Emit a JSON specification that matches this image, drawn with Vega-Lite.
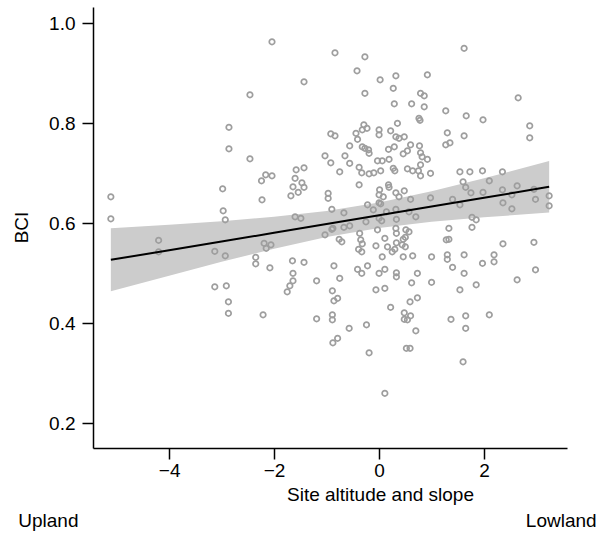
{
  "$schema": "https://vega.github.io/schema/vega-lite/v6.json",
  "width": 474,
  "height": 441,
  "autosize": {"type": "none"},
  "padding": {"left": 93, "top": 7, "right": 35, "bottom": 87},
  "background": "white",
  "config": {
    "view": {"stroke": null},
    "font": "Liberation Sans",
    "axis": {
      "grid": false,
      "domainColor": "black",
      "domainWidth": 1.5,
      "tickColor": "black",
      "tickWidth": 1.5,
      "tickSize": 11,
      "labelColor": "black",
      "labelFontSize": 19,
      "labelFont": "Liberation Sans",
      "titleFont": "Liberation Sans",
      "titleFontSize": 19,
      "titleFontWeight": "normal",
      "titleColor": "black",
      "labelFlush": false,
      "labelOverlap": false
    }
  },
  "datasets": {
    "pts": [
      {"x": -5.11, "y": 0.653}, {"x": -5.11, "y": 0.609}, {"x": -4.2, "y": 0.566}, {"x": -4.2, "y": 0.543},
      {"x": -2.98, "y": 0.669}, {"x": -2.97, "y": 0.625}, {"x": -2.93, "y": 0.607}, {"x": -3.13, "y": 0.544},
      {"x": -2.93, "y": 0.535}, {"x": -3.13, "y": 0.473}, {"x": -2.91, "y": 0.475}, {"x": -2.87, "y": 0.443},
      {"x": -2.87, "y": 0.42}, {"x": -2.04, "y": 0.963}, {"x": -1.43, "y": 0.883}, {"x": -2.46, "y": 0.857},
      {"x": -2.86, "y": 0.792}, {"x": -2.86, "y": 0.749}, {"x": -2.46, "y": 0.729}, {"x": -2.16, "y": 0.697},
      {"x": -2.04, "y": 0.695}, {"x": -2.24, "y": 0.685}, {"x": -1.58, "y": 0.707}, {"x": -1.43, "y": 0.711},
      {"x": -1.6, "y": 0.69}, {"x": -1.47, "y": 0.681}, {"x": -1.64, "y": 0.673}, {"x": -1.43, "y": 0.672},
      {"x": -1.54, "y": 0.662}, {"x": -1.68, "y": 0.655}, {"x": -2.23, "y": 0.647}, {"x": -1.6, "y": 0.613},
      {"x": -1.49, "y": 0.61}, {"x": -2.19, "y": 0.56}, {"x": -2.06, "y": 0.557}, {"x": -2.15, "y": 0.55},
      {"x": -2.35, "y": 0.532}, {"x": -2.35, "y": 0.519}, {"x": -2.08, "y": 0.511}, {"x": -1.65, "y": 0.525},
      {"x": -1.43, "y": 0.522}, {"x": -1.64, "y": 0.5}, {"x": -1.64, "y": 0.485}, {"x": -1.7, "y": 0.475},
      {"x": -1.75, "y": 0.463}, {"x": -1.19, "y": 0.485}, {"x": -2.21, "y": 0.417}, {"x": -1.19, "y": 0.409},
      {"x": -0.84, "y": 0.941}, {"x": -0.27, "y": 0.933}, {"x": -0.42, "y": 0.905}, {"x": 0.02, "y": 0.887},
      {"x": 0.32, "y": 0.895}, {"x": 0.27, "y": 0.87}, {"x": -0.27, "y": 0.86}, {"x": 0.29, "y": 0.839},
      {"x": 0.35, "y": 0.8}, {"x": -0.92, "y": 0.779}, {"x": -0.84, "y": 0.775}, {"x": -0.44, "y": 0.78},
      {"x": -0.29, "y": 0.797}, {"x": -0.23, "y": 0.79}, {"x": -0.32, "y": 0.787}, {"x": 0.0, "y": 0.787},
      {"x": 0.0, "y": 0.777}, {"x": 0.22, "y": 0.785}, {"x": 0.32, "y": 0.773}, {"x": -0.41, "y": 0.768},
      {"x": -0.56, "y": 0.755}, {"x": -0.32, "y": 0.753}, {"x": -0.27, "y": 0.75}, {"x": -0.2, "y": 0.747},
      {"x": -0.19, "y": 0.74}, {"x": -1.03, "y": 0.735}, {"x": -0.65, "y": 0.735}, {"x": 0.18, "y": 0.748},
      {"x": 0.29, "y": 0.753}, {"x": -0.03, "y": 0.725}, {"x": 0.19, "y": 0.728}, {"x": 1.62, "y": 0.95},
      {"x": 0.92, "y": 0.897}, {"x": 0.79, "y": 0.86}, {"x": 0.86, "y": 0.855}, {"x": 0.62, "y": 0.839},
      {"x": 0.86, "y": 0.833}, {"x": 1.27, "y": 0.825}, {"x": 1.66, "y": 0.815}, {"x": 0.76, "y": 0.81},
      {"x": 0.78, "y": 0.806}, {"x": 0.38, "y": 0.77}, {"x": 0.48, "y": 0.773}, {"x": 1.3, "y": 0.781},
      {"x": 1.62, "y": 0.775}, {"x": 1.27, "y": 0.757}, {"x": 1.35, "y": 0.761}, {"x": 0.6, "y": 0.757},
      {"x": 0.77, "y": 0.755}, {"x": 0.54, "y": 0.745}, {"x": 0.46, "y": 0.739}, {"x": 0.79, "y": 0.741},
      {"x": 0.82, "y": 0.733}, {"x": 0.92, "y": 0.728}, {"x": -0.92, "y": 0.721}, {"x": -0.56, "y": 0.72},
      {"x": -0.75, "y": 0.703}, {"x": -0.38, "y": 0.712}, {"x": -0.33, "y": 0.701}, {"x": -0.19, "y": 0.699},
      {"x": -0.1, "y": 0.701}, {"x": 0.03, "y": 0.705}, {"x": 0.06, "y": 0.725}, {"x": 0.27, "y": 0.71},
      {"x": 0.3, "y": 0.705}, {"x": -0.38, "y": 0.677}, {"x": 0.18, "y": 0.677}, {"x": 0.19, "y": 0.672},
      {"x": -0.97, "y": 0.66}, {"x": -0.97, "y": 0.65}, {"x": 0.01, "y": 0.667}, {"x": 0.0, "y": 0.657},
      {"x": 0.08, "y": 0.653}, {"x": 0.32, "y": 0.661}, {"x": -0.22, "y": 0.637}, {"x": 0.0, "y": 0.641},
      {"x": 0.03, "y": 0.639}, {"x": -0.9, "y": 0.628}, {"x": -0.67, "y": 0.621}, {"x": -0.11, "y": 0.627},
      {"x": 0.14, "y": 0.623}, {"x": 0.32, "y": 0.628}, {"x": -0.25, "y": 0.603}, {"x": 0.0, "y": 0.61},
      {"x": 0.05, "y": 0.605}, {"x": 0.33, "y": 0.608}, {"x": -0.88, "y": 0.59}, {"x": -0.9, "y": 0.588},
      {"x": -0.67, "y": 0.592}, {"x": -0.56, "y": 0.595}, {"x": -1.03, "y": 0.577}, {"x": -0.37, "y": 0.58},
      {"x": -0.03, "y": 0.587}, {"x": 0.32, "y": 0.59}, {"x": 0.33, "y": 0.58}, {"x": -0.76, "y": 0.568},
      {"x": -0.71, "y": 0.563}, {"x": -0.35, "y": 0.567}, {"x": -0.32, "y": 0.559}, {"x": 0.11, "y": 0.57},
      {"x": -0.06, "y": 0.555}, {"x": 0.16, "y": 0.553}, {"x": 0.33, "y": 0.561}, {"x": 0.3, "y": 0.548},
      {"x": -0.39, "y": 0.548}, {"x": -0.33, "y": 0.543}, {"x": 0.06, "y": 0.533}, {"x": 0.25, "y": 0.543},
      {"x": -0.86, "y": 0.515}, {"x": -0.41, "y": 0.508}, {"x": -0.33, "y": 0.5}, {"x": -0.22, "y": 0.515},
      {"x": 0.0, "y": 0.5}, {"x": 0.11, "y": 0.508}, {"x": 0.33, "y": 0.501}, {"x": 0.33, "y": 0.493},
      {"x": -0.75, "y": 0.49}, {"x": -0.89, "y": 0.465}, {"x": -0.06, "y": 0.467}, {"x": 0.11, "y": 0.47},
      {"x": -0.79, "y": 0.45}, {"x": -0.86, "y": 0.445}, {"x": 0.22, "y": 0.432}, {"x": -0.89, "y": 0.417},
      {"x": -0.89, "y": 0.407}, {"x": -0.57, "y": 0.39}, {"x": -0.24, "y": 0.397}, {"x": -0.79, "y": 0.37},
      {"x": -0.88, "y": 0.361}, {"x": -0.19, "y": 0.341}, {"x": 0.11, "y": 0.26}, {"x": 0.79, "y": 0.717},
      {"x": 0.54, "y": 0.709}, {"x": 0.64, "y": 0.705}, {"x": 0.75, "y": 0.705}, {"x": 0.79, "y": 0.695},
      {"x": 0.98, "y": 0.7}, {"x": 1.54, "y": 0.703}, {"x": 1.73, "y": 0.703}, {"x": 1.6, "y": 0.683},
      {"x": 1.65, "y": 0.672}, {"x": 1.75, "y": 0.661}, {"x": 0.48, "y": 0.665}, {"x": 0.38, "y": 0.653},
      {"x": 0.6, "y": 0.648}, {"x": 0.98, "y": 0.651}, {"x": 1.4, "y": 0.648}, {"x": 1.54, "y": 0.637},
      {"x": 0.57, "y": 0.623}, {"x": 0.7, "y": 0.613}, {"x": 1.77, "y": 0.612}, {"x": 1.77, "y": 0.592},
      {"x": 1.33, "y": 0.59}, {"x": 0.51, "y": 0.587}, {"x": 0.57, "y": 0.583}, {"x": 0.46, "y": 0.568},
      {"x": 0.5, "y": 0.572}, {"x": 1.33, "y": 0.568}, {"x": 1.28, "y": 0.567}, {"x": 0.44, "y": 0.557},
      {"x": 0.5, "y": 0.553}, {"x": 0.64, "y": 0.535}, {"x": 0.46, "y": 0.533}, {"x": 1.0, "y": 0.533},
      {"x": 1.3, "y": 0.537}, {"x": 1.62, "y": 0.537}, {"x": 1.3, "y": 0.528}, {"x": 1.4, "y": 0.512},
      {"x": 0.73, "y": 0.5}, {"x": 0.62, "y": 0.481}, {"x": 1.0, "y": 0.482}, {"x": 1.62, "y": 0.5},
      {"x": 1.85, "y": 0.477}, {"x": 1.54, "y": 0.467}, {"x": 0.59, "y": 0.443}, {"x": 0.73, "y": 0.451},
      {"x": 0.48, "y": 0.421}, {"x": 0.48, "y": 0.408}, {"x": 0.54, "y": 0.407}, {"x": 0.6, "y": 0.415},
      {"x": 0.7, "y": 0.385}, {"x": 1.37, "y": 0.408}, {"x": 1.65, "y": 0.415}, {"x": 1.65, "y": 0.39},
      {"x": 0.52, "y": 0.35}, {"x": 0.59, "y": 0.35}, {"x": 1.6, "y": 0.323}, {"x": 2.65, "y": 0.851},
      {"x": 1.98, "y": 0.807}, {"x": 2.87, "y": 0.795}, {"x": 2.87, "y": 0.771}, {"x": 1.97, "y": 0.705},
      {"x": 2.35, "y": 0.703}, {"x": 2.1, "y": 0.685}, {"x": 2.63, "y": 0.675}, {"x": 2.35, "y": 0.667},
      {"x": 2.53, "y": 0.657}, {"x": 1.98, "y": 0.662}, {"x": 2.95, "y": 0.668}, {"x": 2.98, "y": 0.648},
      {"x": 3.24, "y": 0.655}, {"x": 3.24, "y": 0.635}, {"x": 2.36, "y": 0.641}, {"x": 2.53, "y": 0.629},
      {"x": 1.85, "y": 0.607}, {"x": 2.36, "y": 0.559}, {"x": 2.95, "y": 0.562}, {"x": 2.19, "y": 0.537},
      {"x": 2.19, "y": 0.523}, {"x": 1.97, "y": 0.52}, {"x": 2.98, "y": 0.507}, {"x": 2.63, "y": 0.487},
      {"x": 2.1, "y": 0.417}
    ],
    "fit": [
      {"x": -5.11, "fit": 0.527, "lo": 0.464, "hi": 0.59},
      {"x": -4, "fit": 0.546, "lo": 0.495, "hi": 0.597},
      {"x": -3, "fit": 0.5635, "lo": 0.523, "hi": 0.604},
      {"x": -2, "fit": 0.581, "lo": 0.549, "hi": 0.613},
      {"x": -1, "fit": 0.5985, "lo": 0.5725, "hi": 0.6245},
      {"x": 0, "fit": 0.616, "lo": 0.5905, "hi": 0.6415},
      {"x": 1, "fit": 0.6335, "lo": 0.603, "hi": 0.664},
      {"x": 2, "fit": 0.651, "lo": 0.612, "hi": 0.69},
      {"x": 3.24, "fit": 0.673, "lo": 0.6215, "hi": 0.7245}
    ],
    "ends": [
      {"label": "Upland", "x": -6.3},
      {"label": "Lowland", "x": 3.47}
    ]
  },
  "layer": [
    {
      "data": {"name": "fit"},
      "mark": {"type": "area", "color": "#cccccc", "opacity": 1},
      "encoding": {
        "x": {
          "field": "x", "type": "quantitative",
          "scale": {"domain": [-5.45, 3.58], "nice": false, "zero": false},
          "axis": {
            "values": [-4, -2, 0, 2],
            "format": "d",
            "labelPadding": 2,
            "title": "Site altitude and slope",
            "titleX": 287,
            "titleY": 46,
            "titleBaseline": "middle",
            "titleAnchor": null
          }
        },
        "y": {
          "field": "lo", "type": "quantitative",
          "scale": {"domain": [0.1506, 1.0326], "nice": false, "zero": false},
          "axis": {
            "values": [0.2, 0.4, 0.6, 0.8, 1.0],
            "format": ".1f",
            "labelPadding": 7,
            "title": "BCI",
            "titleX": -72,
            "titleY": 220,
            "titleBaseline": "middle",
            "titleAngle": -90
          }
        },
        "y2": {"field": "hi"}
      }
    },
    {
      "data": {"name": "pts"},
      "mark": {"type": "point", "shape": "circle", "filled": false, "stroke": "#9e9e9e", "strokeWidth": 1.7, "size": 30, "opacity": 1},
      "encoding": {
        "x": {"field": "x", "type": "quantitative", "title": "Site altitude and slope"},
        "y": {"field": "y", "type": "quantitative", "title": "BCI"}
      }
    },
    {
      "data": {"name": "fit"},
      "mark": {"type": "line", "color": "black", "strokeWidth": 2},
      "encoding": {
        "x": {"field": "x", "type": "quantitative", "title": "Site altitude and slope"},
        "y": {"field": "fit", "type": "quantitative", "title": "BCI"}
      }
    },
    {
      "data": {"name": "ends"},
      "mark": {"type": "text", "fontSize": 19, "font": "Liberation Sans", "color": "black", "baseline": "middle", "align": "center", "clip": false},
      "encoding": {
        "x": {"field": "x", "type": "quantitative", "title": "Site altitude and slope"},
        "y": {"datum": 0.005, "type": "quantitative", "title": "BCI"},
        "text": {"field": "label"}
      }
    }
  ]
}
